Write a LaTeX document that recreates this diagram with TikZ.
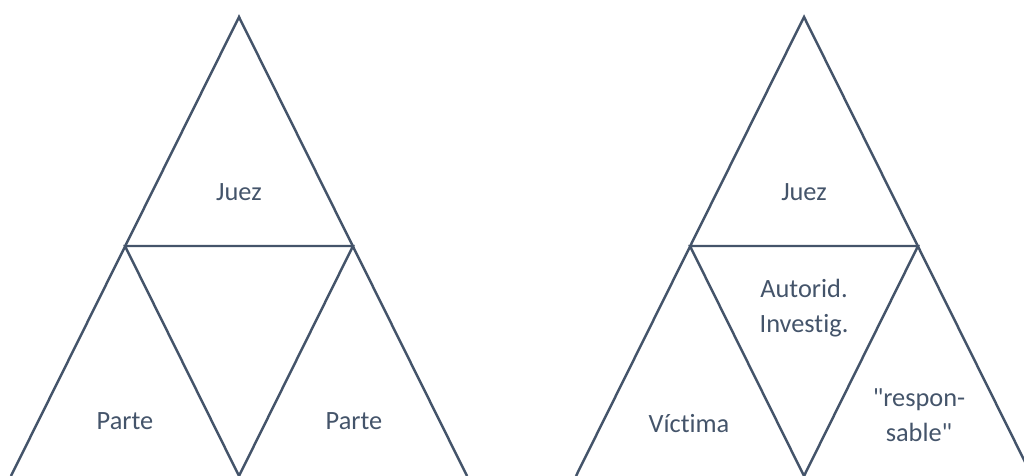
\documentclass[tikz,border=0pt]{standalone}
\usepackage{fontspec}
\setmainfont{Carlito}[Ligatures={TeXOff,CommonOff}]
\definecolor{pizarra}{HTML}{44546A}
\tikzset{
  lado/.style={draw=pizarra, line width=1.4pt, line join=miter},
  rotulo/.style={text=pizarra, font=\fontsize{15}{20}\selectfont, align=center, inner sep=0pt}
}
\begin{document}
\begin{tikzpicture}[x=0.02cm, y=-0.02cm]
  \useasboundingbox (0,0) rectangle (1024,476);
  \clip (0,0) rectangle (1024,476);

  % Triangulo izquierdo
  \coordinate (A1) at (239,17);
  \coordinate (B1) at (11,476);
  \coordinate (C1) at (467,476);
  \coordinate (M1) at (125,246);
  \coordinate (N1) at (353,246);
  \coordinate (D1) at (239,476);
  \draw[lado] (B1) -- (A1) -- (C1);
  \draw[lado] (D1) -- (M1) -- (N1) -- cycle;
  \node[rotulo] (juez1) at (239,192) {Juez};
  \node[rotulo] (parte1) at (125,421) {Parte};
  \node[rotulo] (parte2) at (354,421) {Parte};

  % Triangulo derecho
  \coordinate (A2) at (804,17);
  \coordinate (B2) at (576,476);
  \coordinate (C2) at (1032,476);
  \coordinate (M2) at (690,246);
  \coordinate (N2) at (918,246);
  \coordinate (D2) at (804,476);
  \draw[lado] (B2) -- (A2) -- (C2);
  \draw[lado] (D2) -- (M2) -- (N2) -- cycle;
  \node[rotulo] (juez2) at (804,192) {Juez};
  \node[rotulo] (autorid) at (804,308) {Autorid.\\Investig.};
  \node[rotulo] (victima) at (689,424) {Víctima};
  \node[rotulo] (respons) at (919,415) {"respon-\\sable"};
\end{tikzpicture}
\end{document}
